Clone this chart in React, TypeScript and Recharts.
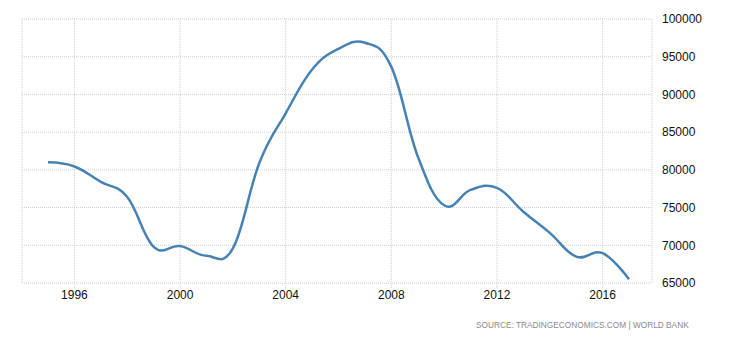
import { LineChart, Line, XAxis, YAxis, CartesianGrid } from "recharts";

const years = [
    1995, 1996, 1997, 1998, 1999, 2000, 2001, 2002, 2003, 2004, 2005, 2006,
    2007, 2008, 2009, 2010, 2011, 2012, 2013, 2014, 2015, 2016, 2017,
];
const values = [
    81000, 80450, 78400, 76400, 69800, 69900, 68600, 69600, 80900, 87500,
    93300, 96050, 96850, 93650, 81800, 75300, 77350, 77600, 74450, 71650,
    68500, 68950, 65500,
];
const xTicks = [1996, 2000, 2004, 2008, 2012, 2016];
const yTicks = [65000, 70000, 75000, 80000, 85000, 90000, 95000, 100000];

const data = years.map((year, i) => ({ year, value: values[i] }));

const tickStyle = { fontSize: 12, fill: "#111", fontFamily: "Liberation Sans, Arial, sans-serif" };

// spline in the style of the source site: handles at 0.4 of each segment, aligned through the point
function splineCurve(context: any) {
    let pts: number[][] = [];
    return {
        areaStart() {},
        areaEnd() {},
        lineStart() {
            pts = [];
        },
        point(x: number, y: number) {
            pts.push([+x, +y]);
        },
        lineEnd() {
            const n = pts.length;
            if (!n) return;
            const smoothing = 1.5;
            const denom = smoothing + 1;
            const ctrl = pts.map((p, i) => {
                if (i === 0 || i === n - 1) return { lx: p[0], ly: p[1], rx: p[0], ry: p[1] };
                const [lastX, lastY] = pts[i - 1];
                const [nextX, nextY] = pts[i + 1];
                const lx = (smoothing * p[0] + lastX) / denom;
                let ly = (smoothing * p[1] + lastY) / denom;
                const rx = (smoothing * p[0] + nextX) / denom;
                let ry = (smoothing * p[1] + nextY) / denom;
                const corr = ((ry - ly) * (rx - p[0])) / (rx - lx) + p[1] - ry;
                ly += corr;
                ry += corr;
                return { lx, ly, rx, ry };
            });
            context.moveTo(pts[0][0], pts[0][1]);
            for (let i = 1; i < n; i++) {
                context.bezierCurveTo(ctrl[i - 1].rx, ctrl[i - 1].ry, ctrl[i].lx, ctrl[i].ly, pts[i][0], pts[i][1]);
            }
        },
    };
}

export default function App() {
    return (
        <div style={{ position: "absolute", left: 0, top: 0, width: 730, height: 340, background: "#fff" }}>
            <LineChart
                width={730}
                height={340}
                data={data}
                margin={{ top: 19, right: 8, bottom: 27, left: 22 }}
            >
                <CartesianGrid stroke="#cfcfcf" strokeDasharray="1 1" />
                <XAxis
                    dataKey="year"
                    type="number"
                    domain={[1994.015, 2017.87]}
                    ticks={xTicks}
                    allowDataOverflow
                    tick={tickStyle}
                    axisLine={false}
                    tickLine={{ stroke: "#cfcfcf", strokeDasharray: "1 1" }}
                    tickSize={5}
                    height={30}
                />
                <YAxis
                    orientation="right"
                    domain={[65000, 100000]}
                    ticks={yTicks}
                    tick={tickStyle}
                    axisLine={false}
                    tickLine={false}
                    tickMargin={4}
                    width={70}
                />
                <Line
                    type={splineCurve as any}
                    dataKey="value"
                    stroke="#4682b4"
                    strokeWidth={2.5}
                    dot={false}
                    isAnimationActive={false}
                />
            </LineChart>
            <div
                style={{
                    position: "absolute",
                    left: 476,
                    top: 320,
                    fontSize: 8.3,
                    color: "#8a8a8a",
                    fontFamily: "Liberation Sans, Arial, sans-serif",
                    whiteSpace: "nowrap",
                }}
            >
                SOURCE: TRADINGECONOMICS.COM | WORLD BANK
            </div>
        </div>
    );
}
